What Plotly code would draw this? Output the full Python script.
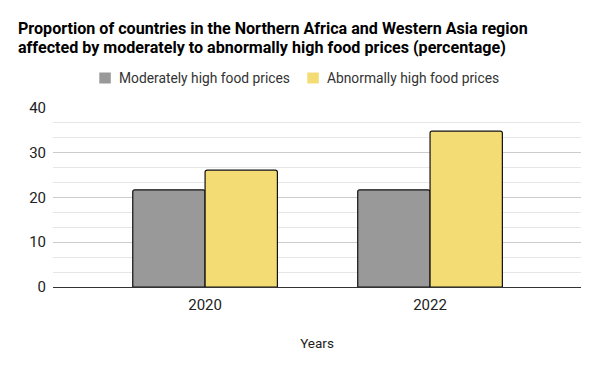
import plotly.graph_objects as go

years = ["2020", "2022"]
moderately = [21.7, 21.7]
abnormally = [26.1, 34.8]
series_names = ["Moderately high food prices", "Abnormally high food prices"]
colors = ["#999999", "#f4dc74"]
title_lines = [
    "Proportion of countries in the Northern Africa and Western Asia region",
    "affected by moderately to abnormally high food prices (percentage)",
]

fig = go.Figure()
for name, vals, col in zip(series_names, [moderately, abnormally], colors):
    fig.add_trace(go.Bar(
        x=years, y=vals, name=name, showlegend=False,
        marker=dict(color=col, line=dict(color="#111111", width=1.2), cornerradius=2),
    ))

# page body has an 8px margin, so figure coordinates are offset
L, T, W, H = 45, 99, 528, 180

def py(y_fig):
    return 1 + (T - y_fig) / H

def px(x_fig):
    return (x_fig - L) / W

for i, line in enumerate(title_lines):
    fig.add_annotation(
        text=line, xref="paper", yref="paper",
        x=px(8), y=py(20 + 19 * i), xanchor="left", yanchor="middle",
        showarrow=False,
        font=dict(family="Roboto", size=16.1, color="#000000", weight="bold"),
    )

# legend: plain squares + labels
legend_sq_x = [91.3, 299.3]
legend_txt_x = [109, 317]
legend_y = 70
for name, col, sx, tx in zip(series_names, colors, legend_sq_x, legend_txt_x):
    fig.add_shape(
        type="rect", xref="paper", yref="paper",
        x0=px(sx), x1=px(sx + 11.5), y0=py(legend_y - 5.5), y1=py(legend_y + 5.5),
        fillcolor=col, line=dict(width=0),
    )
    fig.add_annotation(
        text=name, xref="paper", yref="paper",
        x=px(tx), y=py(legend_y), xanchor="left", yanchor="middle",
        showarrow=False, font=dict(size=13.8, color="#333333"),
    )

fig.update_layout(
    width=600, height=371,
    margin=dict(l=L, r=600 - L - W, t=T, b=371 - T - H),
    paper_bgcolor="white", plot_bgcolor="white",
    font=dict(family="Roboto", color="#222222"),
    barmode="group", bargap=0.357, bargroupgap=0,
    showlegend=False,
    xaxis=dict(
        type="category", range=[-0.676, 1.671], automargin=False,
        tickfont=dict(size=15, color="#222222"),
        title=dict(text="Years", font=dict(size=13.5, color="#222222"), standoff=25),
        showgrid=False, ticks="", showline=False, ticklabelstandoff=7,
    ),
    yaxis=dict(
        range=[0, 40.2], dtick=10, tick0=0, automargin=False,
        tickfont=dict(size=15, color="#222222"),
        gridcolor="#cccccc", gridwidth=1,
        zeroline=True, zerolinecolor="#333333", zerolinewidth=1.3,
        minor=dict(dtick=10/3, showgrid=True, gridcolor="#e6e6e6", gridwidth=1),
        ticks="", ticklabelstandoff=6,
    ),
)

fig.write_html("out.html")
